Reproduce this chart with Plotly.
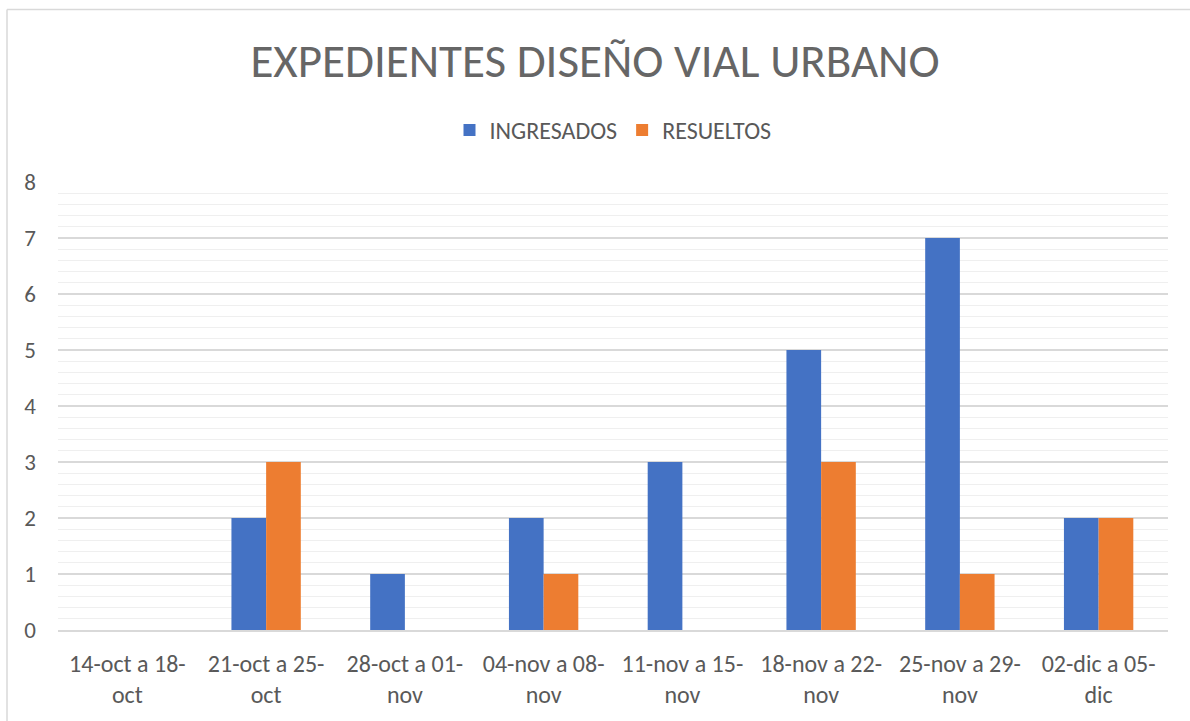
import plotly.graph_objects as go

categories = ["14-oct a 18-<br>oct", "21-oct a 25-<br>oct", "28-oct a 01-<br>nov", "04-nov a 08-<br>nov",
              "11-nov a 15-<br>nov", "18-nov a 22-<br>nov", "25-nov a 29-<br>nov", "02-dic a 05-<br>dic"]
ingresados = [0, 2, 1, 2, 3, 5, 7, 2]
resueltos = [0, 3, 0, 1, 0, 3, 1, 2]
y_ticks = [0, 1, 2, 3, 4, 5, 6, 7, 8]

FONT = "Carlito, Calibri, Lato, Noto Sans, sans-serif"
W, H = 1190, 721
ML, MR, MT, MB = 58, 22, 182, 87
pw, ph = W - ML - MR, H - MT - MB


def px_x(p):
    return (p - ML) / pw


def px_y(p):
    return (H - MB - p) / ph


fig = go.Figure()
fig.add_trace(go.Bar(name="INGRESADOS", x=categories, y=ingresados, marker_color="#4472C4",
                     marker_line_width=0))
fig.add_trace(go.Bar(name="RESUELTOS", x=categories, y=resueltos, marker_color="#ED7D31",
                     marker_line_width=0))

fig.update_layout(
    width=W, height=H,
    margin=dict(l=ML, r=MR, t=MT, b=MB),
    paper_bgcolor="white", plot_bgcolor="white",
    barmode="group", bargap=0.5, bargroupgap=0,
    font=dict(family=FONT, color="#595959", size=23),
    title=dict(text="EXPEDIENTES DISEÑO VIAL URBANO", x=0.5, xanchor="center",
               y=1 - 61 / H, yanchor="middle",
               font=dict(family=FONT, size=47, color="#666666", weight=300)),
    legend=dict(orientation="h", x=0.5, xanchor="center", y=px_y(130), yanchor="middle",
                font=dict(family=FONT, size=24, color="#595959"),
                traceorder="normal", itemwidth=30),
    xaxis=dict(showgrid=False, showline=True, linecolor="#D9D9D9", linewidth=1.5,
               ticks="", tickfont=dict(size=24, color="#595959"), ticklabelstandoff=11,
               fixedrange=True),
    yaxis=dict(range=[0, 8], tickvals=y_ticks, showgrid=True, gridcolor="#D9D9D9", gridwidth=1.5,
               zeroline=False, showline=False, ticks="", ticklabelstandoff=21,
               tickfont=dict(size=23, color="#595959"), fixedrange=True,
               minor=dict(dtick=0.2, showgrid=True, gridcolor="#EFEFEF", gridwidth=1.2)),
)

# chart border (top and left edges visible)
fig.add_shape(type="line", xref="paper", yref="paper", x0=px_x(7), x1=px_x(W + 5),
              y0=px_y(8), y1=px_y(8), line=dict(color="#D9D9D9", width=1.5))
fig.add_shape(type="line", xref="paper", yref="paper", x0=px_x(7), x1=px_x(7),
              y0=px_y(8), y1=px_y(H + 5), line=dict(color="#D9D9D9", width=1.5))

fig.write_html("out.html", config={"displayModeBar": False},
               post_script="document.body.style.margin='0px';")
